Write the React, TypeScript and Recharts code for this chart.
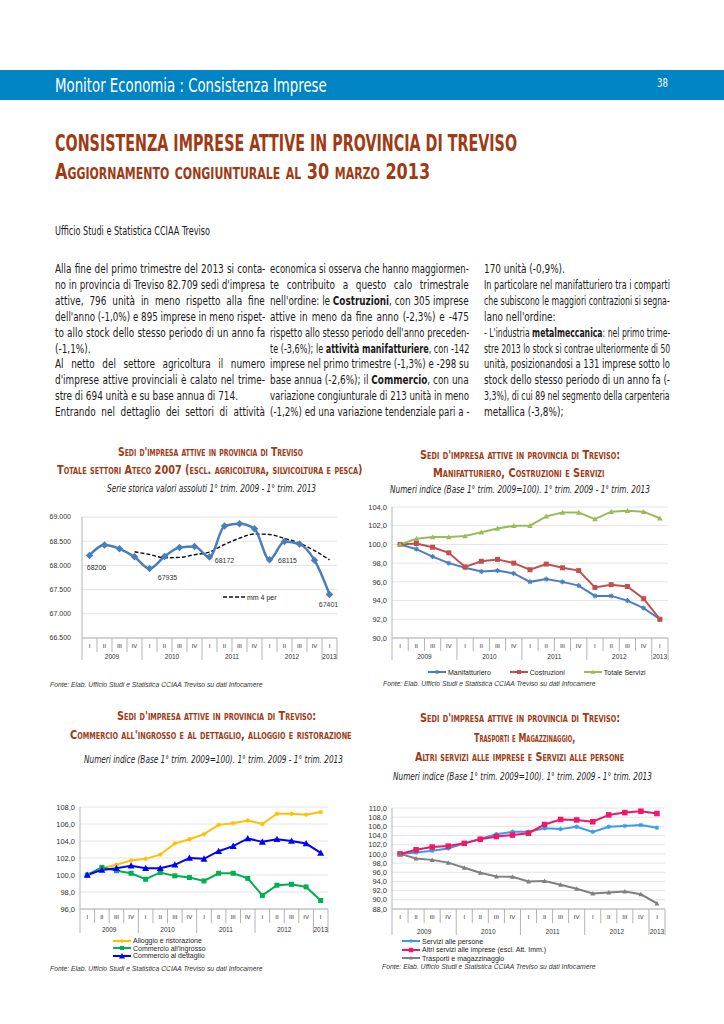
import React, { useLayoutEffect, useRef, useState } from 'react'
import { LineChart, Line, XAxis, YAxis, CartesianGrid, Legend, LabelList } from 'recharts'

// periodi: 1° trim. 2009 - 1° trim. 2013
const quarterLabels = ['I', 'II', 'III', 'IV', 'I', 'II', 'III', 'IV', 'I', 'II', 'III', 'IV', 'I', 'II', 'III', 'IV', 'I']
const yearLabels = ['2009', '2009', '2009', '2009', '2010', '2010', '2010', '2010', '2011', '2011', '2011', '2011', '2012', '2012', '2012', '2012', '2013']

// grafico 1: valori assoluti
const totaleImprese = [68206, 68419, 68343, 68177, 67935, 68184, 68371, 68391, 68172, 68813, 68862, 68758, 68115, 68495, 68440, 68108, 67401]
const mediaMobile4 = [null, null, null, 68281, 68225, 68158, 68165, 68220, 68276, 68432, 68562, 68648, 68638, 68556, 68460, 68305, 68113]
const ticksAssoluti = [66500, 67000, 67500, 68000, 68500, 69000]
const etichetteIndici = [0, 4, 8, 12, 16]

// grafico 2
const manifatturiero = [100.0, 99.5, 98.7, 98.0, 97.5, 97.1, 97.2, 96.9, 96.0, 96.3, 96.0, 95.6, 94.5, 94.5, 94.0, 93.2, 92.0]
const costruzioni = [100.0, 100.1, 99.7, 99.1, 97.6, 98.2, 98.4, 98.0, 97.3, 97.9, 97.5, 97.2, 95.4, 95.7, 95.5, 94.2, 92.0]
const totaleServizi = [100.0, 100.6, 100.8, 100.8, 100.9, 101.3, 101.7, 102.0, 102.0, 103.0, 103.4, 103.4, 102.7, 103.5, 103.6, 103.5, 102.8]
const ticksG2 = [90, 92, 94, 96, 98, 100, 102, 104]

// grafico 3
const alloggio = [100.0, 100.8, 101.2, 101.7, 101.9, 102.4, 103.7, 104.2, 104.8, 105.9, 106.1, 106.4, 106.0, 107.2, 107.2, 107.1, 107.4]
const ingrosso = [100.0, 100.9, 100.5, 100.2, 99.5, 100.3, 99.9, 99.7, 99.3, 100.2, 100.2, 99.6, 97.6, 98.8, 98.9, 98.6, 97.0]
const dettaglio = [100.0, 100.6, 100.8, 101.1, 100.8, 100.8, 101.2, 102.0, 101.9, 102.8, 103.4, 104.3, 103.9, 104.2, 104.0, 103.7, 102.6]
const ticksG3 = [96, 98, 100, 102, 104, 106, 108]

// grafico 4
const serviziPersone = [100.0, 100.3, 100.7, 101.2, 102.3, 103.3, 104.3, 104.8, 104.8, 105.6, 105.4, 105.9, 104.8, 105.9, 106.1, 106.3, 105.7]
const altriServizi = [100.0, 100.9, 101.5, 101.7, 102.3, 103.2, 103.8, 104.1, 104.5, 106.4, 107.5, 107.4, 107.0, 108.5, 109.0, 109.3, 108.8]
const trasporti = [100.0, 99.0, 98.7, 98.1, 97.0, 95.9, 95.1, 95.0, 94.0, 94.1, 93.3, 92.4, 91.4, 91.6, 91.8, 91.2, 89.2]
const ticksG4 = [88, 90, 92, 94, 96, 98, 100, 102, 104, 106, 108, 110]

const rows = quarterLabels.map((q, i) => ({
  key: `${yearLabels[i]} ${q}`,
  totale: totaleImprese[i],
  mm4: mediaMobile4[i],
  manif: manifatturiero[i],
  costr: costruzioni[i],
  serv: totaleServizi[i],
  allog: alloggio[i],
  ingr: ingrosso[i],
  dett: dettaglio[i],
  pers: serviziPersone[i],
  altri: altriServizi[i],
  trasp: trasporti[i],
}))

const BODY_FONT = "'Liberation Sans Narrow', 'DejaVu Sans Condensed', 'Roboto Condensed', sans-serif"
const CHART_FONT = "'Liberation Sans', Arial, sans-serif"
const BROWN = '#9e3a14'
const AXIS = '#b3b3b3'
const FONTE = 'Fonte: Elab. Ufficio Studi e Statistica CCIAA Treviso su dati Infocamere'
const BODY_SQUEEZE = 0.86

const fmtMigliaia = (v: number) => {
  const s = String(Math.round(v))
  return s.slice(0, s.length - 3) + '.' + s.slice(-3)
}
const fmtIndice = (v: number) => v.toFixed(1).replace('.', ',')

// ---------- testo ----------

function TextLine({ x, y, w, size, mode = 'left', squeeze = 1, text, style }: any) {
  const ref = useRef<HTMLSpanElement>(null)
  const [adj, setAdj] = useState({ ws: 0, sx: squeeze })
  useLayoutEffect(() => {
    const el = ref.current
    if (!el || !w) return
    const nat = el.offsetWidth
    if (!nat) return
    const spaces = (text.match(/ /g) || []).length
    if (mode === 'justify') {
      if (nat * squeeze > w) setAdj({ ws: 0, sx: w / nat })
      else setAdj({ ws: spaces ? (w / squeeze - nat) / spaces : 0, sx: squeeze })
    } else if (mode === 'fit') {
      setAdj({ ws: 0, sx: w / nat })
    } else if (nat * squeeze > w) {
      setAdj({ ws: 0, sx: w / nat })
    }
  }, [])
  const parts = String(text).split('**')
  return (
    <div
      style={{
        position: 'absolute',
        left: x,
        top: y - size / 2,
        whiteSpace: 'nowrap',
        lineHeight: `${size}px`,
        fontSize: size,
        ...style,
      }}
    >
      <span
        ref={ref}
        style={{
          display: 'inline-block',
          wordSpacing: adj.ws,
          transform: `scaleX(${adj.sx})`,
          transformOrigin: 'left center',
        }}
      >
        {parts.map((t, i) => (i % 2 === 1 ? <b key={i}>{t}</b> : <React.Fragment key={i}>{t}</React.Fragment>))}
      </span>
    </div>
  )
}

const col1 = [
  ['Alla fine del primo trimestre del 2013 si conta-', 1],
  ["no in provincia di Treviso 82.709 sedi d'impresa", 1],
  ['attive, 796 unità in meno rispetto alla fine', 1],
  ["dell'anno (-1,0%) e 895 imprese in meno rispet-", 1],
  ['to allo stock dello stesso periodo di un anno fa', 1],
  ['(-1,1%).', 0],
  ['Al netto del settore agricoltura il numero', 1],
  ["d'imprese attive provinciali è calato nel trime-", 1],
  ['stre di 694 unità e su base annua di 714.', 0],
  ['Entrando nel dettaglio dei settori di attività', 1],
]
const col2 = [
  ['economica si osserva che hanno maggiormen-', 1],
  ['te contribuito a questo calo trimestrale', 1],
  ["nell'ordine: le **Costruzioni**, con 305 imprese", 1],
  ['attive in meno da fine anno (-2,3%) e -475', 1],
  ["rispetto allo stesso periodo dell'anno preceden-", 1],
  ['te (-3,6%); le **attività manifatturiere**, con -142', 1],
  ['imprese nel primo trimestre (-1,3%) e -298 su', 1],
  ['base annua (-2,6%); il **Commercio**, con una', 1],
  ['variazione congiunturale di 213 unità in meno', 1],
  ['(-1,2%) ed una variazione tendenziale pari a -', 1],
]
const col3 = [
  ['170 unità (-0,9%).', 0],
  ['In particolare nel manifatturiero tra i comparti', 1],
  ['che subiscono le maggiori contrazioni si segna-', 1],
  ["lano nell'ordine:", 0],
  ["- L'industria **metalmeccanica**: nel primo trime-", 1],
  ['stre 2013 lo stock si contrae ulteriormente di 50', 1],
  ['unità, posizionandosi a 131 imprese sotto lo', 1],
  ['stock dello stesso periodo di un anno fa (-', 1],
  ['3,3%), di cui 89 nel segmento della carpenteria', 1],
  ['metallica (-3,8%);', 0],
]

function Column({ lines, x, w }: any) {
  return (
    <>
      {lines.map((l: any, i: number) => (
        <TextLine
          key={i}
          x={x}
          y={270 + i * 15.85}
          w={w}
          size={11.5}
          squeeze={BODY_SQUEEZE}
          mode={l[1] ? 'justify' : 'left'}
          text={l[0]}
        />
      ))}
    </>
  )
}

// ---------- marcatori ----------

function Marker({ shape, cx, cy, color, size }: any) {
  const s = size / 2
  if (shape === 'diamond')
    return <path d={`M${cx},${cy - s}L${cx + s},${cy}L${cx},${cy + s}L${cx - s},${cy}Z`} fill={color} />
  if (shape === 'square') return <rect x={cx - s} y={cy - s} width={size} height={size} fill={color} />
  if (shape === 'triangle')
    return <path d={`M${cx},${cy - s}L${cx + s},${cy + s * 0.8}L${cx - s},${cy + s * 0.8}Z`} fill={color} />
  const d = s * 0.7
  return (
    <g stroke={color} strokeWidth={1.1}>
      <line x1={cx - s} y1={cy} x2={cx + s} y2={cy} />
      <line x1={cx} y1={cy - s} x2={cx} y2={cy + s} />
      <line x1={cx - d} y1={cy - d} x2={cx + d} y2={cy + d} />
      <line x1={cx - d} y1={cy + d} x2={cx + d} y2={cy - d} />
    </g>
  )
}

const makeDot = (shape: string, color: string, size: number) => (p: any) => {
  if (p.cx == null || p.cy == null || p.value == null) return <g key={`e${p.index}`} />
  return <Marker key={`m${p.index}`} shape={shape} cx={p.cx} cy={p.cy} color={color} size={size} />
}

function LegendItems({ items, vertical, rowH, gap }: any) {
  return (
    <div
      style={{
        display: 'flex',
        flexDirection: vertical ? 'column' : 'row',
        fontFamily: CHART_FONT,
        fontSize: 7,
        color: '#222',
        whiteSpace: 'nowrap',
      }}
    >
      {items.map((s: any) => (
        <div key={s.key} style={{ display: 'flex', alignItems: 'center', height: rowH, marginRight: vertical ? 0 : gap }}>
          <svg width={s.iconW || 18} height={8} style={{ marginRight: 2 }}>
            <line
              x1={0}
              x2={s.iconW || 18}
              y1={4}
              y2={4}
              stroke={s.color}
              strokeWidth={s.width}
              strokeDasharray={s.dash}
            />
            {s.shape && <Marker shape={s.shape} cx={(s.iconW || 18) / 2} cy={4} color={s.color} size={s.size - 1} />}
          </svg>
          <span>{s.name}</span>
        </div>
      ))}
    </div>
  )
}

// ---------- asse categorie a due livelli ----------

function PeriodTick(props: any) {
  const { x, y, index, step, geo } = props
  const half = step / 2
  const last = quarterLabels.length - 1
  return (
    <g>
      <line x1={x - half} x2={x - half} y1={y} y2={y + (index % 4 === 0 ? geo.longT : geo.shortT)} stroke={AXIS} />
      {index === last && <line x1={x + half} x2={x + half} y1={y} y2={y + geo.longT} stroke={AXIS} />}
      <text x={x} y={y + geo.qY} textAnchor="middle" dominantBaseline="central" fontSize={6} fill="#333" fontFamily={CHART_FONT}>
        {quarterLabels[index]}
      </text>
      {(index % 4 === 1 || index === last) && (
        <text
          x={index === last ? x : x + half}
          y={y + geo.yY}
          textAnchor="middle"
          dominantBaseline="central"
          fontSize={6.5}
          fill="#333"
          fontFamily={CHART_FONT}
        >
          {yearLabels[index]}
        </text>
      )}
    </g>
  )
}

function SeriesChart({ geo, series, ticks, fmt, smooth, labels, legend }: any) {
  const plotW = geo.width - geo.yWidth - geo.mRight
  const step = plotW / quarterLabels.length
  return (
    <div style={{ position: 'absolute', left: geo.left, top: geo.top }}>
      <LineChart
        width={geo.width}
        height={geo.height}
        data={rows}
        margin={{ top: geo.mTop, right: geo.mRight, left: 0, bottom: 0 }}
      >
        <CartesianGrid vertical={false} stroke="#e4e4e4" />
        <XAxis
          dataKey="key"
          type="category"
          interval={0}
          height={geo.axisH}
          tickLine={false}
          tickSize={0}
          tickMargin={0}
          padding={{ left: step / 2, right: step / 2 }}
          axisLine={{ stroke: AXIS }}
          tick={(p: any) => <PeriodTick {...p} step={step} geo={geo} />}
        />
        <YAxis
          type="number"
          width={geo.yWidth}
          domain={[ticks[0], ticks[ticks.length - 1]]}
          ticks={ticks}
          interval={0}
          allowDataOverflow
          tickFormatter={fmt}
          tickLine={false}
          tickSize={0}
          tickMargin={geo.gap}
          axisLine={{ stroke: AXIS }}
          tick={{ fontSize: geo.yFont, fill: '#333', fontFamily: CHART_FONT }}
        />
        {series.map((s: any) => (
          <Line
            key={s.key}
            type={smooth ? 'monotone' : 'linear'}
            dataKey={s.key}
            name={s.name}
            stroke={s.color}
            strokeWidth={s.width}
            strokeDasharray={s.dash}
            dot={s.shape ? makeDot(s.shape, s.color, s.size) : false}
            activeDot={false}
            isAnimationActive={false}
          >
            {labels && s.key === 'totale' && (
              <LabelList
                dataKey="totale"
                content={(p: any) => {
                  const off = labels[p.index]
                  if (!off) return null
                  return (
                    <text
                      key={`l${p.index}`}
                      x={p.x + off[0]}
                      y={p.y + off[1]}
                      textAnchor="middle"
                      dominantBaseline="central"
                      fontSize={7}
                      fill="#333"
                      fontFamily={CHART_FONT}
                    >
                      {p.value}
                    </text>
                  )
                }}
              />
            )}
          </Line>
        ))}
        <Legend
          layout="horizontal"
          verticalAlign="middle"
          align="center"
          wrapperStyle={{ left: legend.left, top: legend.top, width: 'auto' }}
          content={() => (
            <LegendItems items={legend.items} vertical={legend.vertical} rowH={legend.rowH} gap={legend.gap} />
          )}
        />
      </LineChart>
    </div>
  )
}

// ---------- configurazioni ----------

const geo1 = { left: 40, top: 505, width: 305, height: 165, yWidth: 42, mTop: 12, mRight: 8, axisH: 32, gap: 11, yFont: 7, qY: 8, yY: 18, shortT: 14, longT: 22 }
const geo2 = { left: 355, top: 495, width: 320, height: 190, yWidth: 37, mTop: 12, mRight: 7, axisH: 47, gap: 5, yFont: 7.5, qY: 8, yY: 18, shortT: 13, longT: 22 }
const geo3 = { left: 40, top: 795, width: 295, height: 180, yWidth: 40, mTop: 12, mRight: 7, axisH: 66, gap: 5, yFont: 7.5, qY: 8, yY: 20, shortT: 14, longT: 24 }
const geo4 = { left: 352, top: 796, width: 320, height: 180, yWidth: 40, mTop: 12, mRight: 7, axisH: 67, gap: 5, yFont: 7.5, qY: 8, yY: 22, shortT: 14, longT: 26 }

const series1 = [
  { key: 'mm4', name: 'mm 4 per', color: '#111', width: 1.4, dash: '4 2', iconW: 22 },
  { key: 'totale', name: 'Totale', color: '#4A7EBB', width: 2.5, shape: 'diamond', size: 7.5 },
]
const labelOffsets1: Record<number, [number, number]> = { 0: [7, 12], 4: [18, 9], 8: [15, 3], 12: [18, 1], 16: [-1, 10] }
const labels1: Record<number, [number, number]> = {}
etichetteIndici.forEach((i) => (labels1[i] = labelOffsets1[i]))

const series2 = [
  { key: 'manif', name: 'Manifatturiero', color: '#4A7EBB', width: 2, shape: 'star', size: 5 },
  { key: 'costr', name: 'Costruzioni', color: '#C0504D', width: 2, shape: 'square', size: 5 },
  { key: 'serv', name: 'Totale Servizi', color: '#9BBB59', width: 2, shape: 'triangle', size: 5.5 },
]
const series3 = [
  { key: 'allog', name: 'Alloggio e ristorazione', color: '#FFC000', width: 2, shape: 'star', size: 4.5 },
  { key: 'ingr', name: "Commercio all'ingrosso", color: '#00B050', width: 2, shape: 'square', size: 5 },
  { key: 'dett', name: 'Commercio al dettaglio', color: '#0000FF', width: 2, shape: 'triangle', size: 7 },
]
const series4 = [
  { key: 'pers', name: 'Servizi alle persone', color: '#3A9BE6', width: 2, shape: 'star', size: 4.5 },
  { key: 'altri', name: 'Altri servizi alle imprese (escl. Att. Imm.)', color: '#F0166A', width: 2, shape: 'square', size: 5.5 },
  { key: 'trasp', name: 'Trasporti e magazzinaggio', color: '#7F7F7F', width: 2, shape: 'triangle', size: 5 },
]

const titleStyle = { fontFamily: BODY_FONT, fontWeight: 700, color: BROWN, fontVariant: 'small-caps' as const }
const subStyle = { fontFamily: BODY_FONT, fontStyle: 'italic' as const, color: '#222' }
const fonteStyle = { fontFamily: CHART_FONT, fontStyle: 'italic' as const, color: '#333' }

export default function App() {
  return (
    <div
      style={{
        position: 'absolute',
        left: 0,
        top: 0,
        width: 724,
        height: 1024,
        overflow: 'hidden',
        background: '#fff',
        fontFamily: BODY_FONT,
        color: '#1a1a1a',
      }}
    >
      {/* intestazione */}
      <div style={{ position: 'absolute', left: 0, top: 70, width: 724, height: 30, background: '#0084C3' }} />
      <TextLine x={55} y={85} w={272} size={19} mode="fit" text="Monitor Economia : Consistenza Imprese" style={{ color: '#fff' }} />
      <TextLine x={657} y={82} w={11} size={13} mode="fit" text="38" style={{ color: '#fff' }} />

      <TextLine x={55} y={143} w={462} size={23} mode="fit" text="CONSISTENZA IMPRESE ATTIVE IN PROVINCIA DI TREVISO" style={{ fontWeight: 700, color: BROWN }} />
      <TextLine x={55} y={172} w={375} size={22} mode="fit" text="Aggiornamento congiunturale al 30 marzo 2013" style={{ fontWeight: 700, color: BROWN, fontVariant: 'small-caps' }} />
      <TextLine x={55} y={232} w={155} size={11.5} mode="fit" text="Ufficio Studi e Statistica CCIAA Treviso" />

      <Column lines={col1} x={55} w={210} />
      <Column lines={col2} x={270} w={199} />
      <Column lines={col3} x={484} w={186} />

      {/* titoli grafici */}
      <TextLine x={118} y={452} w={185} size={12} mode="fit" text="Sedi d'impresa attive in provincia di Treviso" style={titleStyle} />
      <TextLine x={57} y={470} w={306} size={12} mode="fit" text="Totale settori Ateco 2007 (escl. agricoltura, silvicoltura e pesca)" style={titleStyle} />
      <TextLine x={107} y={488} w={209} size={11} mode="fit" text="Serie storica valori assoluti 1° trim. 2009 - 1° trim. 2013" style={subStyle} />

      <TextLine x={420} y={455} w={200} size={12} mode="fit" text="Sedi d'impresa attive in provincia di Treviso:" style={titleStyle} />
      <TextLine x={433} y={473} w={172} size={12} mode="fit" text="Manifatturiero, Costruzioni e Servizi" style={titleStyle} />
      <TextLine x={390} y={489} w={260} size={11} mode="fit" text="Numeri indice (Base 1° trim. 2009=100). 1° trim. 2009 - 1° trim. 2013" style={subStyle} />

      <TextLine x={117} y={716} w={199} size={12} mode="fit" text="Sedi d'impresa attive in provincia di Treviso:" style={titleStyle} />
      <TextLine x={70} y={735} w={282} size={12} mode="fit" text="Commercio all'ingrosso e al dettaglio, alloggio e ristorazione" style={titleStyle} />
      <TextLine x={84} y={759} w={259} size={11} mode="fit" text="Numeri indice (Base 1° trim. 2009=100). 1° trim. 2009 - 1° trim. 2013" style={subStyle} />

      <TextLine x={420} y={718} w={200} size={12} mode="fit" text="Sedi d'impresa attive in provincia di Treviso:" style={titleStyle} />
      <TextLine x={474} y={738} w={101} size={12} mode="fit" text="Trasporti e Magazzinaggio," style={titleStyle} />
      <TextLine x={415} y={757} w={209} size={12} mode="fit" text="Altri servizi alle imprese e Servizi alle persone" style={titleStyle} />
      <TextLine x={393} y={776} w={259} size={11} mode="fit" text="Numeri indice (Base 1° trim. 2009=100). 1° trim. 2009 - 1° trim. 2013" style={subStyle} />

      {/* grafici */}
      <SeriesChart
        geo={geo1}
        series={series1}
        ticks={ticksAssoluti}
        fmt={fmtMigliaia}
        smooth
        labels={labels1}
        legend={{ left: 183, top: 88, items: [series1[0]], vertical: true, rowH: 8 }}
      />
      <SeriesChart
        geo={geo2}
        series={series2}
        ticks={ticksG2}
        fmt={fmtIndice}
        legend={{ left: 73, top: 173, items: series2, vertical: false, rowH: 8, gap: 19 }}
      />
      <SeriesChart
        geo={geo3}
        series={series3}
        ticks={ticksG3}
        fmt={fmtIndice}
        legend={{ left: 73, top: 142, items: series3, vertical: true, rowH: 7.6 }}
      />
      <SeriesChart
        geo={geo4}
        series={series4}
        ticks={ticksG4}
        fmt={fmtIndice}
        legend={{ left: 50, top: 141, items: series4, vertical: true, rowH: 8.5 }}
      />

      {/* fonti */}
      <TextLine x={50} y={685} w={212} size={6.5} mode="fit" text={FONTE} style={fonteStyle} />
      <TextLine x={383} y={684} w={212} size={6.5} mode="fit" text={FONTE} style={fonteStyle} />
      <TextLine x={50} y={969} w={212} size={6.5} mode="fit" text={FONTE} style={fonteStyle} />
      <TextLine x={382} y={967} w={213} size={6.5} mode="fit" text={FONTE} style={fonteStyle} />
    </div>
  )
}
